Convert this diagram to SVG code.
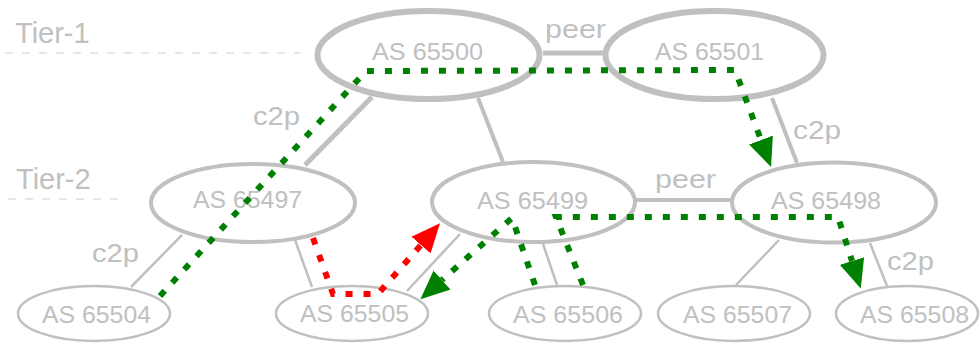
<svg xmlns="http://www.w3.org/2000/svg" width="980" height="345" viewBox="0 0 980 345">
<defs>
<style>
.lbl{font-family:"Liberation Sans",Arial,sans-serif;fill:#c0c0c0}
.node{font-size:23.5px}
.edge{font-size:25px}
.tier{font-size:29px}
.n1{fill:#fff;stroke:#c0c0c0;stroke-width:6}
.n2{fill:#fff;stroke:#c0c0c0;stroke-width:4}
.n3{fill:#fff;stroke:#c0c0c0;stroke-width:2.5}
.c1{stroke:#c0c0c0;stroke-width:5;fill:none}
.c2{stroke:#c0c0c0;stroke-width:4;fill:none}
.c3{stroke:#c0c0c0;stroke-width:2.5;fill:none}
.tierline{stroke:#cccccc;stroke-width:1;stroke-dasharray:8 9}
.g{stroke:#008000;stroke-width:6;fill:none;stroke-dasharray:7 11}
.r{stroke:#ff0000;stroke-width:6;fill:none;stroke-dasharray:7 11}
</style>
<marker id="ag" markerUnits="userSpaceOnUse" markerWidth="30" markerHeight="26" refX="0" refY="11" orient="auto" viewBox="0 0 26 22">
<path d="M0,0 L25,11 L0,22 z" fill="#008000"/>
</marker>
<marker id="ar" markerUnits="userSpaceOnUse" markerWidth="30" markerHeight="26" refX="0" refY="11" orient="auto" viewBox="0 0 26 22">
<path d="M0,0 L25,11 L0,22 z" fill="#ff0000"/>
</marker>
</defs>
<g id="tiers">
<line class="tierline" x1="5" y1="53" x2="300" y2="53"/>
<line class="tierline" x1="8" y1="199" x2="127" y2="199"/>
<text class="lbl tier" x="15" y="43">Tier-1</text>
<text class="lbl tier" x="16" y="189">Tier-2</text>
</g>
<g id="connectors">
<line class="c1" x1="543" y1="53" x2="603" y2="53"/>
<line class="c1" x1="372" y1="97" x2="305" y2="165"/>
<line class="c2" x1="478" y1="98" x2="503" y2="162"/>
<line class="c2" x1="772" y1="98" x2="797" y2="163"/>
<line class="c2" x1="636" y1="200" x2="731" y2="200"/>
<line class="c3" x1="182" y1="235" x2="131" y2="287"/>
<line class="c3" x1="295" y1="240" x2="312" y2="287"/>
<line class="c3" x1="460" y1="234" x2="407" y2="291"/>
<line class="c3" x1="543" y1="244" x2="557" y2="285"/>
<line class="c3" x1="779" y1="240" x2="736" y2="285"/>
<line class="c3" x1="870" y1="243" x2="887" y2="286"/>
<text class="lbl edge" x="545" y="38" textLength="61" lengthAdjust="spacingAndGlyphs">peer</text>
<text class="lbl edge" x="655" y="188" textLength="61" lengthAdjust="spacingAndGlyphs">peer</text>
<text class="lbl edge" x="253" y="125" textLength="47" lengthAdjust="spacingAndGlyphs">c2p</text>
<text class="lbl edge" x="793" y="139" textLength="48" lengthAdjust="spacingAndGlyphs">c2p</text>
<text class="lbl edge" x="92" y="262" textLength="47" lengthAdjust="spacingAndGlyphs">c2p</text>
<text class="lbl edge" x="887" y="270" textLength="47" lengthAdjust="spacingAndGlyphs">c2p</text>
</g>
<g id="as65500"><ellipse class="n1" cx="428.5" cy="55" rx="111" ry="44"/><text class="lbl node" x="372" y="60" textLength="111" lengthAdjust="spacingAndGlyphs">AS 65500</text></g>
<g id="as65501"><ellipse class="n1" cx="714.5" cy="55" rx="109" ry="44"/><text class="lbl node" x="655" y="60" textLength="109" lengthAdjust="spacingAndGlyphs">AS 65501</text></g>
<g id="as65497"><ellipse class="n2" cx="253" cy="203" rx="102" ry="39"/><text class="lbl node" x="193" y="208" textLength="109" lengthAdjust="spacingAndGlyphs">AS 65497</text></g>
<g id="as65499"><ellipse class="n2" cx="533.5" cy="202" rx="101.5" ry="40"/><text class="lbl node" x="477" y="209" textLength="111" lengthAdjust="spacingAndGlyphs">AS 65499</text></g>
<g id="as65498"><ellipse class="n2" cx="834" cy="202.5" rx="102" ry="40"/><text class="lbl node" x="771" y="209" textLength="110" lengthAdjust="spacingAndGlyphs">AS 65498</text></g>
<g id="as65504"><ellipse class="n3" cx="94" cy="313.5" rx="76" ry="27.5"/><text class="lbl node" x="42" y="323" textLength="109" lengthAdjust="spacingAndGlyphs">AS 65504</text></g>
<g id="as65505"><ellipse class="n3" cx="352" cy="313.5" rx="76" ry="27.5"/><text class="lbl node" x="300" y="322" textLength="109" lengthAdjust="spacingAndGlyphs">AS 65505</text></g>
<g id="as65506"><ellipse class="n3" cx="565" cy="313.5" rx="76" ry="27.5"/><text class="lbl node" x="513" y="323" textLength="110" lengthAdjust="spacingAndGlyphs">AS 65506</text></g>
<g id="as65507"><ellipse class="n3" cx="734" cy="313.5" rx="76" ry="27.5"/><text class="lbl node" x="683" y="323" textLength="109" lengthAdjust="spacingAndGlyphs">AS 65507</text></g>
<g id="as65508"><ellipse class="n3" cx="907" cy="313.5" rx="71" ry="27.5"/><text class="lbl node" x="860" y="323" textLength="109" lengthAdjust="spacingAndGlyphs">AS 65508</text></g>
<g id="routes">
<path class="g" d="M160,296 L366,71 L735,70 L761,140" marker-end="url(#ag)"/>
<path class="g" d="M535,285 L512,218 L442,280" marker-end="url(#ag)"/>
<path class="g" d="M583,285 L556,217 L838,217 L852,261" marker-end="url(#ag)"/>
<path class="r" d="M313,238 L333,294 L378,294 L421,245" marker-end="url(#ar)"/>
</g>
</svg>
